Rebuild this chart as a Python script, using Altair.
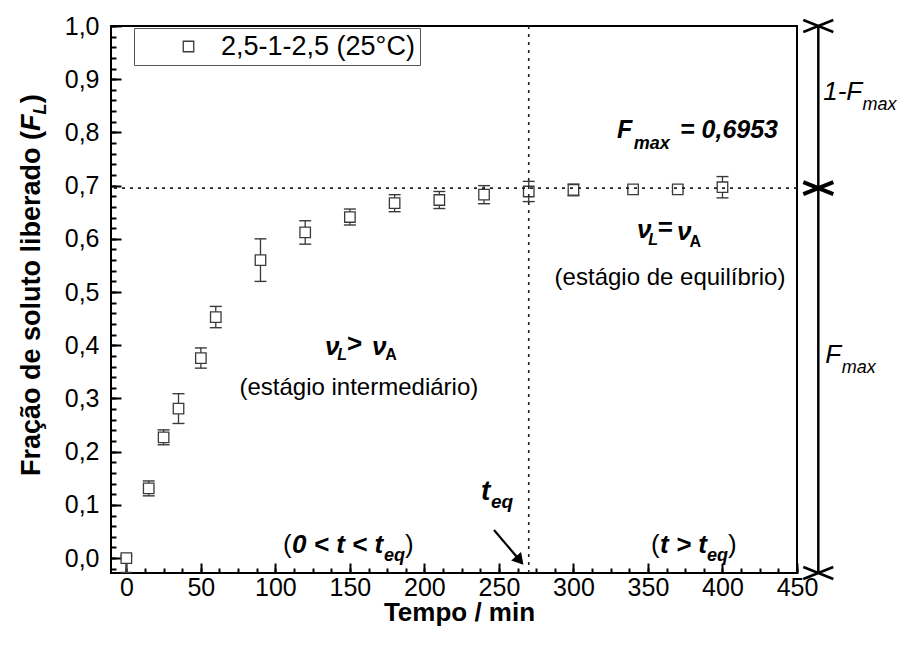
import altair as alt
import pandas as pd

# ---------------- data ----------------
tempo = [0, 15, 25, 35, 50, 60, 90, 120, 150, 180, 210, 240, 270, 300, 340, 370, 400]
fracao = [0.000, 0.131, 0.227, 0.281, 0.376, 0.453, 0.560, 0.612, 0.641, 0.667,
          0.673, 0.683, 0.689, 0.692, 0.693, 0.693, 0.697]
erro_inf = [0.027, 0.014, 0.014, 0.028, 0.019, 0.020, 0.040, 0.022, 0.015, 0.016,
            0.016, 0.017, 0.019, 0.011, 0.004, 0.004, 0.020]
erro_sup = [0.004, 0.014, 0.014, 0.028, 0.019, 0.020, 0.040, 0.022, 0.015, 0.016,
            0.016, 0.017, 0.019, 0.011, 0.004, 0.004, 0.020]
serie = "2,5-1-2,5 (25°C)"
FMAX = 0.6953
TEQ = 270

x_major = [0, 50, 100, 150, 200, 250, 300, 350, 400, 450]
x_minor = [i * 12.5 for i in range(37)]
y_major = [round(i * 0.1, 1) for i in range(11)]
y_minor = [round(-0.02 + i * 0.02, 2) for i in range(52)]

# ---------------- layout ----------------
W, H = 686, 547
XDOM = [-10.3, 450]
YDOM = [-0.028, 1.0]
FONT = "Liberation Sans"
INK = "#3a3a3a"

xs = alt.Scale(domain=XDOM, nice=False, zero=False)
ys = alt.Scale(domain=YDOM, nice=False, zero=False)

df = pd.DataFrame({
    "t": tempo,
    "F": fracao,
    "lo": [f - e for f, e in zip(fracao, erro_inf)],
    "hi": [f + e for f, e in zip(fracao, erro_sup)],
    "serie": serie,
})


def X(field, axis=None):
    return alt.X(field, type="quantitative", scale=xs, axis=axis)


def Y(field, axis=None):
    return alt.Y(field, type="quantitative", scale=ys, axis=axis)


# error bars
err_rule = alt.Chart(df).mark_rule(color=INK, strokeWidth=1.3).encode(
    x=X("t"), y=Y("lo"), y2="hi")
cap_lo = alt.Chart(df).mark_tick(orient="horizontal", size=12, thickness=1.4, color=INK,
                                 opacity=1).encode(x=X("t"), y=Y("lo"))
cap_hi = alt.Chart(df).mark_tick(orient="horizontal", size=12, thickness=1.4, color=INK,
                                 opacity=1).encode(x=X("t"), y=Y("hi"))

main_x_axis = alt.Axis(orient="bottom", values=x_major, format="d", title="Tempo / min",
                       ticks=False, tickSize=0, domain=False, grid=False, labelFlush=False,
                       labelFont=FONT, labelFontSize=25, labelColor="black", labelPadding=2,
                       titleFont=FONT, titleFontSize=26, titleFontWeight="bold",
                       titleColor="black", titleX=348, titleY=26, titleBaseline="top")
main_y_axis = alt.Axis(orient="left", values=y_major,
                       labelExpr="replace(format(datum.value, '.1f'), '.', ',')",
                       title=None, ticks=False, tickSize=0, domain=False, grid=False,
                       labelFlush=False,
                       labelFont=FONT, labelFontSize=25, labelColor="black", labelPadding=12)

legenda = alt.Legend(orient="none", legendX=23, legendY=2, title=None,
                     padding=5, strokeColor="#555555", fillColor="white",
                     symbolType="square", symbolSize=110,
                     symbolStrokeColor=INK, symbolFillColor="white",
                     symbolStrokeWidth=1.3, symbolOffset=36,
                     labelOffset=19, labelFont=FONT, labelFontSize=27,
                     labelLimit=400, labelColor="black")

points = alt.Chart(df).mark_point(shape="square", size=110, filled=False, fill="white",
                                  fillOpacity=1, strokeWidth=1.3, opacity=1).encode(
    x=X("t", main_x_axis),
    y=Y("F", main_y_axis),
    color=alt.Color("serie:N", scale=alt.Scale(range=[INK]), legend=legenda),
    shape=alt.Shape("serie:N", scale=alt.Scale(range=["square"]), legend=legenda),
)


def tick_layer(xv, yv, size):
    return alt.Chart(df).mark_point(opacity=0).encode(
        x=X("t", alt.Axis(orient="top", offset=-H, values=xv, labels=False, domain=False,
                          grid=False, title=None, tickSize=size, tickWidth=2,
                          tickColor="black")),
        y=Y("F", alt.Axis(orient="right", offset=-W, values=yv, labels=False, domain=False,
                          grid=False, title=None, tickSize=size, tickWidth=2,
                          tickColor="black")),
    )


major_ticks = tick_layer(x_major, y_major, 10)
minor_ticks = tick_layer(x_minor, y_minor, 5)

# reference lines
fmax_line = alt.Chart(pd.DataFrame({"y": [FMAX]})).mark_rule(
    color="#222222", strokeWidth=1.6, strokeDash=[3, 5]).encode(y=Y("y"))
teq_line = alt.Chart(pd.DataFrame({"x": [TEQ]})).mark_rule(
    color="#222222", strokeWidth=1.6, strokeDash=[3, 5]).encode(x=X("x"))

# right-hand bracket
XB = 464.3
bracket = alt.Chart(pd.DataFrame({"x": [XB], "y": [YDOM[1]], "y2": [YDOM[0]]})).mark_rule(
    color="black", strokeWidth=2.5).encode(x=X("x"), y=Y("y"), y2="y2")
XPATH = "M-1,-0.4L1,0.4M-1,0.4L1,-0.4"
bracket_ends = alt.Chart(pd.DataFrame({"x": [XB, XB], "y": [YDOM[1], YDOM[0]]})).mark_point(
    shape=XPATH, size=900, filled=False, stroke="black", strokeWidth=2.5, opacity=1).encode(
    x=X("x"), y=Y("y"))
bracket_mid = alt.Chart(pd.DataFrame({"x": [XB], "y": [FMAX]})).mark_point(
    shape=XPATH, size=900, filled=False, stroke="black", strokeWidth=4, opacity=1).encode(
    x=X("x"), y=Y("y"))

# arrow to t_eq
arrow_line = alt.Chart(pd.DataFrame({"x": [246.7], "y": [0.0528], "x2": [262.5], "y2": [0.0005]})).mark_rule(
    color="black", strokeWidth=2.2).encode(x=X("x"), y=Y("y"), x2="x2", y2="y2")
arrow_head = alt.Chart(pd.DataFrame({"x": [264.0], "y": [-0.0045]})).mark_point(
    shape="triangle-up", size=170, filled=True, color="black", opacity=1, angle=139.4).encode(
    x=X("x"), y=Y("y"))


def txt(rows, size, style="normal", weight="normal", align="left", angle=0):
    d = pd.DataFrame(rows, columns=["x", "y", "s"])
    return alt.Chart(d).mark_text(fontSize=size, fontStyle=style, fontWeight=weight,
                                  align=align, baseline="alphabetic", font=FONT,
                                  color="black", angle=angle).encode(
        x=X("x"), y=Y("y"), text="s:N")


texts = [
    # F_max = 0,6953
    txt([(329.2, 0.7886, "F")], 25, "italic", "bold"),
    txt([(371.5, 0.7886, "= 0,6953")], 25, "italic", "bold"),
    txt([(340.5, 0.7688, "max")], 18, "italic", "bold"),
    # v_L > v_A
    txt([(133.3, 0.3817, "ν"), (164.8, 0.3817, "ν"),
         (342.6, 0.6016, "ν"), (369.5, 0.5979, "ν")], 26, "italic", "bold"),
    txt([(141.5, 0.3723, "L"), (350.2, 0.5885, "L")], 16, "italic", "bold"),
    txt([(173.8, 0.3723, "A"), (377.8, 0.5847, "A")], 16, "normal", "bold"),
    txt([(148.0, 0.3873, ">"), (356.6, 0.6053, "=")], 26, "normal", "bold"),
    txt([(156.0, 0.3065, "(estágio intermediário)"),
         (364.8, 0.5133, "(estágio de equilíbrio)")], 24, align="center"),
    # t_eq label
    txt([(238.0, 0.109, "t")], 28, "italic", "bold"),
    txt([(244.7, 0.0942, "eq")], 19, "italic", "bold"),
    # (0 < t < t_eq) and (t > t_eq)
    txt([(105.1, 0.0096, "("), (187.0, 0.0096, ")"),
         (352.0, 0.0096, "("), (403.7, 0.0096, ")")], 26),
    txt([(111.2, 0.0096, "0 < t < t"), (358.1, 0.0096, "t > t")], 26, "italic", "bold"),
    txt([(172.9, -0.0055, "eq"), (389.6, -0.0055, "eq")], 18, "italic", "bold"),
    # right side labels
    txt([(467.6, 0.861, "1-F"), (468.9, 0.3667, "F")], 26, "italic"),
    txt([(494.0, 0.842, "max"), (480.0, 0.348, "max")], 18, "italic"),
    # y title (rotated)
    txt([(-57.9, 0.1543, "Fração de soluto liberado (")], 27, "normal", "bold", angle=270),
    txt([(-57.9, 0.8027, "F")], 27, "italic", "bold", angle=270),
    txt([(-53.9, 0.8336, "L")], 18, "italic", "bold", angle=270),
    txt([(-57.9, 0.855, ")")], 27, "normal", "bold", angle=270),
]

chart = alt.layer(
    major_ticks, minor_ticks,
    err_rule, cap_lo, cap_hi, points,
    fmax_line, teq_line,
    bracket, bracket_ends, bracket_mid,
    arrow_line, arrow_head,
    *texts,
).resolve_axis(x="independent", y="independent").properties(
    width=W, height=H,
    autosize=alt.AutoSizeParams(type="none"),
    padding={"left": 103, "top": 18, "right": 104, "bottom": 58},
    background="white",
).configure_view(stroke="black", strokeWidth=2)

chart.save("out.html", embed_options={"renderer": "svg", "actions": False})
